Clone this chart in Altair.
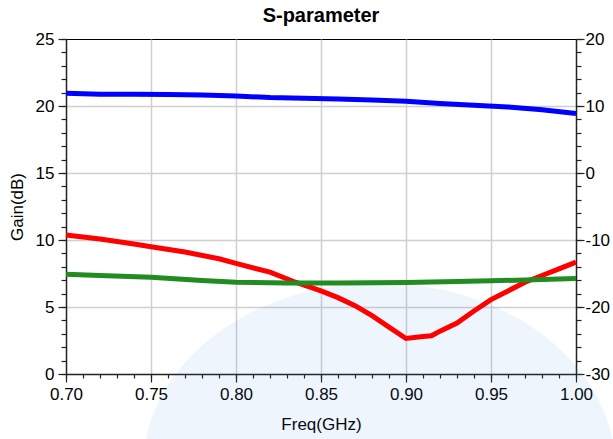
import altair as alt
import pandas as pd

# ---- measured sweep data -------------------------------------------------
# forward gain (left axis, dB)
freq_s21 = [0.70, 0.72, 0.74, 0.76, 0.78, 0.80, 0.82, 0.84, 0.86, 0.88,
            0.90, 0.92, 0.94, 0.96, 0.98, 1.00]
s21_db = [20.95, 20.88, 20.87, 20.86, 20.83, 20.74, 20.63, 20.58, 20.52, 20.44,
          20.35, 20.18, 20.05, 19.93, 19.72, 19.44]

# input reflection (right axis, dB)
freq_s11 = [0.70, 0.72, 0.74, 0.75, 0.77, 0.79, 0.80, 0.82, 0.835, 0.85,
            0.86, 0.87, 0.88, 0.89, 0.90, 0.91, 0.915, 0.92, 0.93, 0.94,
            0.95, 0.96, 0.97, 0.98, 0.99, 1.00]
s11_db = [-9.24, -9.84, -10.6, -11.0, -11.8, -12.8, -13.5, -14.8, -16.3, -17.6,
          -18.6, -19.8, -21.3, -23.0, -24.7, -24.4, -24.3, -23.6, -22.4, -20.6,
          -18.9, -17.6, -16.3, -15.3, -14.3, -13.3]

# output reflection (right axis, dB)
freq_s22 = [0.70, 0.72, 0.75, 0.78, 0.80, 0.83, 0.86, 0.90, 0.93, 0.95, 0.98, 1.00]
s22_db = [-15.1, -15.3, -15.55, -16.05, -16.3, -16.4, -16.4, -16.35, -16.2, -16.1, -15.9, -15.75]

series_names = ["S11", "S22"]
series_colors = ["#ff0000", "#228b22"]

# ---- axis ticks ----------------------------------------------------------
x_major_ticks = [0.70, 0.75, 0.80, 0.85, 0.90, 0.95, 1.00]
x_minor_ticks = [round(0.70 + 0.01 * i, 2) for i in range(31)]
left_major_ticks = [0, 5, 10, 15, 20, 25]
left_minor_ticks = list(range(0, 26))
right_major_ticks = [-30, -20, -10, 0, 10, 20]
right_minor_ticks = list(range(-30, 21, 2))

FONT = "Liberation Sans"

gain_df = pd.DataFrame({"freq": freq_s21, "db": s21_db})
refl_df = pd.concat([
    pd.DataFrame({"freq": freq_s11, "db": s11_db, "trace": series_names[0]}),
    pd.DataFrame({"freq": freq_s22, "db": s22_db, "trace": series_names[1]}),
])

x_scale = alt.Scale(domain=[0.70, 1.00], nice=False, zero=False)
left_scale = alt.Scale(domain=[0, 25], nice=False, zero=False)
right_scale = alt.Scale(domain=[-30, 20], nice=False, zero=False)

# grid only on the inner lines, the frame edges stay black
x_grid_opacity = {"condition": {"test": "datum.value < 0.705 || datum.value > 0.995", "value": 0}, "value": 1}
y_grid_opacity = {"condition": {"test": "datum.value < 0.5 || datum.value > 24.5", "value": 0}, "value": 1}

x_major = alt.Axis(orient="bottom", values=x_major_ticks, format=".2f", title="Freq(GHz)",
                   tickSize=8, grid=True, gridOpacity=x_grid_opacity, labelPadding=4,
                   titlePadding=14)
x_minor = alt.Axis(orient="bottom", values=x_minor_ticks, labels=False, title=None,
                   tickSize=4, grid=False, domain=False)
left_major = alt.Axis(orient="left", values=left_major_ticks, format="d", title="Gain(dB)",
                      tickSize=8, grid=True, gridOpacity=y_grid_opacity, labelPadding=4,
                      titlePadding=9)
left_minor = alt.Axis(orient="left", values=left_minor_ticks, labels=False, title=None,
                      tickSize=5, grid=False, domain=False)
right_major = alt.Axis(orient="right", values=right_major_ticks, labelExpr="'' + datum.value",
                       title=None, tickSize=8, grid=False, labelPadding=1)
right_minor = alt.Axis(orient="right", values=right_minor_ticks, labels=False, title=None,
                       tickSize=5, grid=False, domain=False)

# pale backdrop emblem behind the traces
emblem = alt.Chart(pd.DataFrame({"k": [0]})).mark_point(
    shape="M-1,0A1,0.784,0,1,1,1,0A1,0.784,0,1,1,-1,0Z",
    filled=True, size=222784, color="#4a90d9", opacity=0.085, strokeWidth=0, clip=False,
).encode(x=alt.value(313), y=alt.value(429))

gain = alt.Chart(gain_df).mark_line(color="#0000ff", strokeWidth=5).encode(
    x=alt.X("freq:Q", scale=x_scale, axis=x_major),
    y=alt.Y("db:Q", scale=left_scale, axis=left_major),
)
gain_minor = alt.Chart(gain_df).mark_line(opacity=0).encode(
    x=alt.X("freq:Q", scale=x_scale, axis=x_minor),
    y=alt.Y("db:Q", scale=left_scale, axis=left_minor),
)
refl = alt.Chart(refl_df).mark_line(strokeWidth=5).encode(
    x=alt.X("freq:Q", scale=x_scale, axis=None),
    y=alt.Y("db:Q", scale=right_scale, axis=right_major),
    color=alt.Color("trace:N", scale=alt.Scale(domain=series_names, range=series_colors), legend=None),
    detail="trace:N",
)
refl_minor = alt.Chart(refl_df).mark_line(opacity=0).encode(
    x=alt.X("freq:Q", scale=x_scale, axis=None),
    y=alt.Y("db:Q", scale=right_scale, axis=right_minor),
    detail="trace:N",
)

chart = alt.layer(emblem, gain_minor, refl_minor, gain, refl).resolve_scale(
    y="independent"
).resolve_axis(
    x="independent", y="independent"
).properties(
    width=510,
    height=335,
    autosize=alt.AutoSizeParams(type="none"),
    padding={"left": 66, "top": 39, "right": 37, "bottom": 65},
    background="#ffffff",
    title=alt.TitleParams("S-parameter", font=FONT, fontSize=20, fontWeight="bold",
                          color="#000000", anchor="middle", frame="group", offset=4),
).configure_view(
    stroke="#000000", strokeWidth=1, fill="#ffffff"
).configure_axis(
    labelFont=FONT, titleFont=FONT, labelFontSize=17, titleFontSize=17,
    labelColor="#000000", titleColor="#000000", titleFontWeight="normal",
    domainColor="#222222", domainWidth=1.5, tickColor="#222222", tickWidth=1.2,
    gridColor="#cfcfcf", gridWidth=1.5, labelFlush=False, labelOverlap=False,
)

chart.save("out.html", embed_options={"renderer": "svg", "actions": False})
